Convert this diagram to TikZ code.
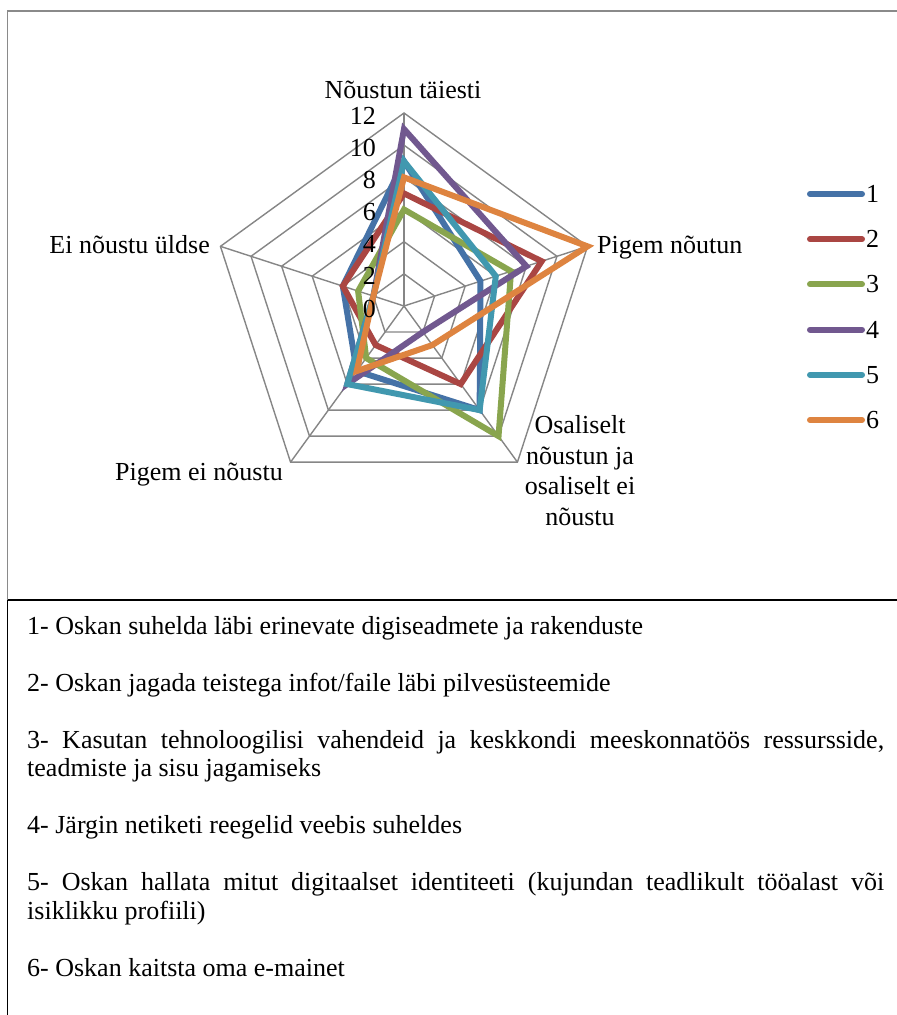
\documentclass[tikz,border=0pt]{standalone}
\usepackage{fontspec}
\setmainfont{Liberation Serif}[Ligatures=TeX]
\definecolor{gridgray}{HTML}{868686}
\definecolor{framegray}{HTML}{8A8A8A}
\definecolor{s1}{HTML}{4572A7}
\definecolor{s2}{HTML}{AA4643}
\definecolor{s3}{HTML}{89A54E}
\definecolor{s4}{HTML}{71588F}
\definecolor{s5}{HTML}{4198AF}
\definecolor{s6}{HTML}{DE8440}
\hyphenpenalty=10000
\exhyphenpenalty=10000
\begin{document}
\begin{tikzpicture}[x=1pt, y=-1pt,
  lbl/.style={font=\rmfamily\fontsize{26}{30.5}\selectfont, inner sep=0pt},
  item/.style={font=\rmfamily\fontsize{26}{28.5}\selectfont, inner sep=0pt,
    anchor=north west, text width=857pt, align=justify},
  gridline/.style={draw=gridgray, line width=1.4pt},
  series/.style={line width=6pt, line join=miter},
  legline/.style={line width=6pt, line cap=round}]

\useasboundingbox (0,0) rectangle (897,1015);
\fill[white] (0,0) rectangle (897,1015);

% chart area border and the table below it
\draw[framegray, line width=1.5pt] (7.5,11) rectangle (905,600);
\draw[black, line width=1.8pt] (7.5,600) -- (905,600);
\draw[black, line width=1.8pt] (7.5,600) -- (7.5,1020);

% radar grid, rings every 2 units up to 12
\begin{scope}[shift={(404,306)}]
  \foreach \k in {1,...,6}
    \draw[gridline] (-90:{\k*193/6}) -- (-18:{\k*193/6}) -- (54:{\k*193/6})
      -- (126:{\k*193/6}) -- (198:{\k*193/6}) -- cycle;
  \foreach \a in {-90,-18,54,126,198}
    \draw[gridline] (0,0) -- (\a:193);
  % series: top, right, lower right, lower left, left
  \foreach \c/\p/\q/\r/\s/\t in {s1/9/5/8/5/4, s2/7/9/6/3/4, s3/6/7/10/4/3,
      s4/11/8/2/6/2, s5/9/6/8/6/2, s6/8/12/3/5/2}
    \draw[series, draw=\c] (-90:{\p*193/12}) -- (-18:{\q*193/12})
      -- (54:{\r*193/12}) -- (126:{\s*193/12}) -- (198:{\t*193/12}) -- cycle;
\end{scope}

% scale values
\foreach \v in {0,2,...,12}
  \node[lbl, anchor=east] (v\v) at (376,{306-\v*193/12+2.5}) {\v};

% axis captions
\node[lbl, anchor=base] (axT) at (403,98) {Nõustun täiesti};
\node[lbl, anchor=base west] (axR) at (597,253) {Pigem nõutun};
\node[lbl, anchor=north, align=center] (axBR) at (580,412)
  {\strut Osaliselt\\nõustun ja\\osaliselt ei\\nõustu};
\node[lbl, anchor=base east] (axBL) at (283,480) {Pigem ei nõustu};
\node[lbl, anchor=base east] (axL) at (210,253) {Ei nõustu üldse};

% legend
\foreach \i [evaluate=\i as \yy using 194+(\i-1)*45.2] in {1,...,6} {
  \coordinate (ls\i) at (810,\yy);
  \coordinate (le\i) at (862,\yy);
  \draw[legline, s\i] (ls\i) -- (le\i);
  \node[lbl, anchor=west] (lg\i) at (866,\yy) {\i};
}

% statements
\node[item] (t1) at (27,{634-19.95}) {\strut 1- Oskan suhelda läbi erinevate digiseadmete ja rakenduste};
\node[item] (t2) at (27,{691-19.95}) {\strut 2- Oskan jagada teistega infot/faile läbi pilvesüsteemide};
\node[item] (t3) at (27,{748-19.95}) {\strut 3- Kasutan tehnoloogilisi vahendeid ja keskkondi meeskonnatöös ressursside,\linebreak teadmiste ja sisu jagamiseks};
\node[item] (t4) at (27,{833.5-19.95}) {\strut 4- Järgin netiketi reegelid veebis suheldes};
\node[item] (t5) at (27,{890.5-19.95}) {\strut 5- Oskan hallata mitut digitaalset identiteeti (kujundan teadlikult tööalast või\linebreak isiklikku profiili)};
\node[item] (t6) at (27,{976-19.95}) {\strut 6- Oskan kaitsta oma e-mainet};
\end{tikzpicture}
\end{document}
